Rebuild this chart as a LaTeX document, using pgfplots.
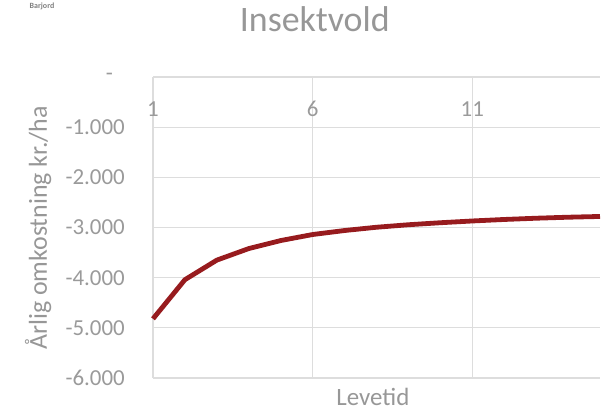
\documentclass[border=0pt]{standalone}
\usepackage{pgfplots}
\pgfplotsset{compat=1.18}
\usepackage{fontspec}
\setmainfont{Carlito}
\definecolor{txt}{HTML}{9A9A9A}
\definecolor{ttl}{HTML}{979797}
\definecolor{grd}{HTML}{DDDDDD}
\definecolor{ln}{HTML}{971B1E}
\begin{document}
\begin{tikzpicture}
\path[use as bounding box] (0,0) rectangle (616bp,411bp);
\node[font=\fontsize{8}{9}\selectfont\bfseries, text=gray, anchor=center] at (42bp,405bp) {Barjord};
\begin{axis}[
  at={(153bp,33bp)}, anchor=south west,
  scale only axis, width=447bp, height=301bp,
  xmin=1, xmax=15, ymin=-6000, ymax=0,
  xtick={1,6,11}, xticklabels={1,6,11},
  ytick={-6000,-5000,-4000,-3000,-2000,-1000,0},
  yticklabels={-6.000,-5.000,-4.000,-3.000,-2.000,-1.000,{-\hspace*{12bp}}},
  x tick label style={font=\fontsize{23}{27}\selectfont, text=txt, anchor=base, inner sep=0pt, yshift=-39bp},
  xticklabel pos=upper,
  y tick label style={font=\fontsize{23}{27}\selectfont, text=txt, anchor=east, inner sep=0pt, xshift=-28bp},
  grid=major, grid style={grd, line width=1.3bp},
  axis line style={draw=none}, tick style={draw=none},
  title={Insektvold},
  title style={at={(0.362,1.173)}, anchor=center, font=\fontsize{36}{40}\selectfont, text=ttl},
  xlabel={Levetid},
  xlabel style={at={(0.492,-0.063)}, anchor=center, font=\fontsize{25}{28}\selectfont, text=ttl},
  ylabel={Årlig omkostning kr./ha},
  ylabel style={at={(-0.257,0.498)}, anchor=center, font=\fontsize{26}{29}\selectfont, text=ttl},
  clip=false,
]
\addplot[ln, line width=4.8bp, line join=round] coordinates {
(1,-4820) (2,-4040) (3,-3650) (4,-3420) (5,-3260) (6,-3140) (7,-3060)
(8,-2995) (9,-2945) (10,-2905) (11,-2870) (12,-2840) (13,-2815) (14,-2795) (15,-2780)
};
\end{axis}
\end{tikzpicture}
\end{document}
